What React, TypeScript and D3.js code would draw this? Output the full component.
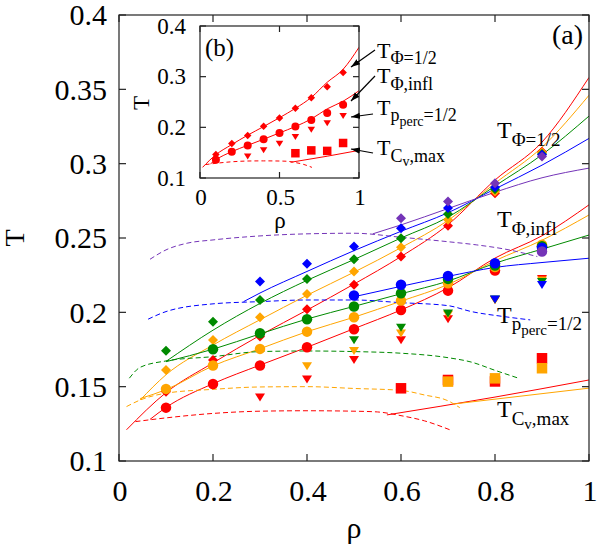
import React from "react";
import * as d3 from "d3";

// ---- data ----
const rhoPts = [0.1, 0.2, 0.3, 0.4, 0.5, 0.6, 0.7, 0.8, 0.9];

const colors = {
  red: "#ff0000",
  orange: "#ffa500",
  green: "#008a00",
  blue: "#0000ff",
  purple: "#7434b8",
};
const order = ["red", "orange", "green", "blue", "purple"];

// T_{Phi=1/2} (diamonds), values start at rho = from
const phiHalf = {
  red: { from: 0.1, T: [0.1466, 0.168, 0.1837, 0.2021, 0.2185, 0.2375, 0.2582, 0.2801, 0.308] },
  orange: { from: 0.1, T: [0.1612, 0.1814, 0.1967, 0.2124, 0.2274, 0.2438, 0.2622, 0.2812, 0.3075] },
  green: { from: 0.1, T: [0.1742, 0.1937, 0.2083, 0.2225, 0.2357, 0.2499, 0.2662, 0.2828, 0.3065] },
  blue: { from: 0.3, T: [0.2207, 0.2326, 0.2442, 0.2566, 0.2701, 0.2842, 0.306] },
  purple: { from: 0.6, T: [0.2633, 0.2745, 0.2869, 0.3048] },
};
// T_{Phi,infl} (circles)
const phiInfl = {
  red: { from: 0.1, T: [0.1359, 0.1518, 0.1642, 0.1765, 0.1886, 0.2016, 0.2146, 0.2281, 0.2445] },
  orange: { from: 0.1, T: [0.1485, 0.1642, 0.1754, 0.187, 0.1967, 0.2079, 0.2196, 0.2305, 0.2455] },
  green: { from: 0.2, T: [0.1752, 0.1859, 0.1954, 0.2039, 0.2128, 0.2225, 0.2315, 0.2445] },
  blue: { from: 0.5, T: [0.2113, 0.2185, 0.2245, 0.233, 0.2435] },
  purple: { from: 0.9, T: [0.2409] },
};
// T_{p_perc=1/2} (down triangles)
const pPerc = {
  red: { from: 0.3, T: [0.1429, 0.155, 0.168, 0.1814, 0.1954, 0.2085, 0.2225] },
  orange: { from: 0.4, T: [0.1639, 0.1742, 0.1859, 0.1985, 0.2085, 0.2215] },
  green: { from: 0.5, T: [0.1814, 0.1897, 0.1994, 0.2088, 0.2205] },
  blue: { from: 0.8, T: [0.2088, 0.2185] },
  purple: { from: 1, T: [] },
};
// T_{Cv,max} (squares)
const cvMax = {
  red: { from: 0.6, T: [0.1489, 0.1545, 0.1535, 0.1691] },
  orange: { from: 0.7, T: [0.1534, 0.1556, 0.1624] },
  green: { from: 1, T: [] },
  blue: { from: 1, T: [] },
  purple: { from: 1, T: [] },
};

// fitted curves, [rho, T]
const fitPhiHalf = {
  red: [[0.016, 0.121], [0.1, 0.146], [0.2, 0.166], [0.3, 0.1845], [0.4, 0.2015], [0.5, 0.219], [0.6, 0.2375], [0.7, 0.259], [0.8, 0.289], [0.9, 0.3145], [1.0, 0.358]],
  orange: [[0.045, 0.141], [0.1, 0.158], [0.2, 0.178], [0.3, 0.195], [0.4, 0.2115], [0.5, 0.227], [0.6, 0.2435], [0.7, 0.2618], [0.8, 0.2868], [0.9, 0.311], [1.0, 0.346]],
  green: [[0.1, 0.167], [0.2, 0.188], [0.3, 0.206], [0.4, 0.2215], [0.5, 0.2355], [0.6, 0.25], [0.7, 0.264], [0.8, 0.285], [0.9, 0.306], [1.0, 0.332]],
  blue: [[0.265, 0.2072], [0.3, 0.213], [0.4, 0.2275], [0.5, 0.2415], [0.6, 0.2545], [0.7, 0.267], [0.8, 0.283], [0.9, 0.299], [1.0, 0.317]],
  purple: [[0.54, 0.2528], [0.6, 0.2588], [0.7, 0.2698], [0.8, 0.2808], [0.9, 0.2905], [1.0, 0.297]],
};
const fitPhiInfl = {
  red: [[0.066, 0.128], [0.1, 0.136], [0.2, 0.152], [0.3, 0.1645], [0.4, 0.1765], [0.5, 0.189], [0.6, 0.2016], [0.7, 0.2165], [0.8, 0.2365], [0.9, 0.2515], [1.0, 0.2723]],
  orange: [[0.045, 0.142], [0.1, 0.148], [0.2, 0.164], [0.3, 0.1755], [0.4, 0.187], [0.5, 0.1967], [0.6, 0.2075], [0.7, 0.2187], [0.8, 0.2347], [0.9, 0.2485], [1.0, 0.2655]],
  green: [[0.1, 0.1668], [0.2, 0.1752], [0.3, 0.1855], [0.4, 0.1955], [0.5, 0.204], [0.6, 0.2125], [0.7, 0.221], [0.8, 0.233], [0.9, 0.2425], [1.0, 0.252]],
  blue: [[0.5, 0.2105], [0.6, 0.2175], [0.7, 0.2242], [0.8, 0.2302], [0.9, 0.2335], [1.0, 0.2364]],
};
const fitPerc = {
  red: [[0.035, 0.1265], [0.1, 0.129], [0.2, 0.132], [0.3, 0.1335], [0.4, 0.1338], [0.5, 0.1335], [0.55, 0.133], [0.6, 0.1305], [0.65, 0.127], [0.704, 0.121]],
  orange: [[0.016, 0.1366], [0.045, 0.141], [0.1, 0.1456], [0.2, 0.1482], [0.3, 0.1498], [0.4, 0.15], [0.5, 0.1488], [0.6, 0.1475], [0.65, 0.1444], [0.7, 0.1405], [0.725, 0.1359]],
  green: [[0.022, 0.1557], [0.045, 0.163], [0.1, 0.1673], [0.2, 0.1702], [0.3, 0.1736], [0.4, 0.174], [0.5, 0.1736], [0.6, 0.1725], [0.7, 0.1695], [0.75, 0.1665], [0.8, 0.161], [0.85, 0.1557]],
  blue: [[0.062, 0.1954], [0.1, 0.2005], [0.2, 0.2057], [0.3, 0.2072], [0.4, 0.2083], [0.5, 0.2083], [0.6, 0.2065], [0.7, 0.2045], [0.75, 0.2005], [0.82, 0.1971], [0.875, 0.1949]],
  purple: [[0.066, 0.2357], [0.1, 0.242], [0.145, 0.2465], [0.2, 0.2487], [0.3, 0.2514], [0.4, 0.2528], [0.5, 0.2532], [0.6, 0.2505], [0.7, 0.2475], [0.76, 0.2454], [0.83, 0.242], [0.89, 0.2375]],
};
const fitCv = {
  red: [[0.57, 0.131], [0.8, 0.143], [1.0, 0.1545]],
  orange: [[0.711, 0.1383], [1.0, 0.149]],
};

const xTicks = [0, 0.2, 0.4, 0.6, 0.8, 1];
const xTickLabels = ["0", "0.2", "0.4", "0.6", "0.8", "1"];
const yTicks = [0.1, 0.15, 0.2, 0.25, 0.3, 0.35, 0.4];
const yTickLabels = ["0.1", "0.15", "0.2", "0.25", "0.3", "0.35", "0.4"];
const insetXTicks = [0, 0.5, 1];
const insetXLabels = ["0", "0.5", "1"];
const insetYTicks = [0.1, 0.2, 0.3, 0.4];
const insetYLabels = ["0.1", "0.2", "0.3", "0.4"];

const F = { fontFamily: '"Liberation Serif"' };

const pts = (s: { from: number; T: number[] }) =>
  s.T.map((t, i) => [rhoPts[rhoPts.indexOf(s.from) + i], t]);

function Marker({ shape, cx, cy, s, fill }: any) {
  const h = s / 2;
  if (shape === "circle") return <circle cx={cx} cy={cy} r={h} fill={fill} />;
  if (shape === "diamond")
    return <path d={`M${cx},${cy - h}L${cx + h},${cy}L${cx},${cy + h}L${cx - h},${cy}Z`} fill={fill} />;
  if (shape === "tri")
    return <path d={`M${cx - h},${cy - s * 0.38}L${cx + h},${cy - s * 0.38}L${cx},${cy + s * 0.42}Z`} fill={fill} />;
  return <rect x={cx - h} y={cy - h} width={s} height={s} fill={fill} />;
}

function Panel({ x, y, cols, sizes, clipId, dashW }: any) {
  const line = d3.line<number[]>().x((d) => x(d[0])).y((d) => y(d[1])).curve(d3.curveMonotoneX);
  return (
    <g>
      <g clipPath={`url(#${clipId})`} fill="none" strokeWidth={1}>
        {cols.map((c: string) => (
          <g key={c} stroke={(colors as any)[c]}>
            {fitPerc[c] && <path d={line(fitPerc[c])!} strokeDasharray={dashW} />}
            {fitPhiHalf[c] && <path d={line(fitPhiHalf[c])!} />}
            {fitPhiInfl[c] && <path d={line(fitPhiInfl[c])!} />}
            {fitCv[c] && <path d={line(fitCv[c])!} />}
          </g>
        ))}
      </g>
      {cols.map((c: string) => (
        <g key={c}>
          {pts(cvMax[c]).map((p, i) => (
            <Marker key={"s" + i} shape="square" cx={x(p[0])} cy={y(p[1])} s={sizes.square} fill={(colors as any)[c]} />
          ))}
          {pts(pPerc[c]).map((p, i) => (
            <Marker key={"t" + i} shape="tri" cx={x(p[0])} cy={y(p[1])} s={sizes.tri} fill={(colors as any)[c]} />
          ))}
          {pts(phiHalf[c]).map((p, i) => (
            <Marker key={"d" + i} shape="diamond" cx={x(p[0])} cy={y(p[1])} s={sizes.diamond} fill={(colors as any)[c]} />
          ))}
          {pts(phiInfl[c]).map((p, i) => (
            <Marker key={"c" + i} shape="circle" cx={x(p[0])} cy={y(p[1])} s={sizes.circle} fill={(colors as any)[c]} />
          ))}
        </g>
      ))}
    </g>
  );
}

function Frame({ x, y, xt, yt, len }: any) {
  const [x0, x1] = x.range();
  const [y0, y1] = y.range();
  return (
    <g stroke="#222" strokeWidth={1.2} fill="none">
      <rect x={x0} y={y1} width={x1 - x0} height={y0 - y1} />
      {xt.map((t: number) => (
        <g key={"x" + t}>
          <line x1={x(t)} x2={x(t)} y1={y0} y2={y0 - len} />
          <line x1={x(t)} x2={x(t)} y1={y1} y2={y1 + len} />
        </g>
      ))}
      {yt.map((t: number) => (
        <g key={"y" + t}>
          <line x1={x0} x2={x0 + len} y1={y(t)} y2={y(t)} />
          <line x1={x1} x2={x1 - len} y1={y(t)} y2={y(t)} />
        </g>
      ))}
    </g>
  );
}

// "T" with nested sub/sub-sub scripts
function TLabel({ x, y, size, parts }: any) {
  return (
    <text x={x} y={y} fontSize={size} style={F}>
      T
      {parts.map((p: any, i: number) => (
        <tspan key={i} dy={p[1]} fontSize={p[2]}>{p[0]}</tspan>
      ))}
    </text>
  );
}

export default function App() {
  const x = d3.scaleLinear().domain([0, 1]).range([119, 589]);
  const y = d3.scaleLinear().domain([0.1, 0.4]).range([461, 15]);
  const xi = d3.scaleLinear().domain([0, 1]).range([200, 359]);
  const yi = d3.scaleLinear().domain([0.1, 0.4]).range([178, 26]);

  const arrows = [
    [375, 50, 351, 67],
    [375, 76, 351, 101],
    [373, 114, 351, 117],
    [373, 153, 351, 149],
  ];

  return (
    <svg width={601} height={555} style={{ position: "absolute", left: 0, top: 0, background: "#fff", fontFamily: '"Liberation Serif"' }}>
      <defs>
        <clipPath id="mainClip">
          <rect x={119} y={15} width={470} height={446} />
        </clipPath>
        <clipPath id="insetClip">
          <rect x={200} y={26} width={159} height={152} />
        </clipPath>
        <marker id="arr" viewBox="0 0 10 10" refX={10} refY={5} markerWidth={9} markerHeight={9} orient="auto" markerUnits="userSpaceOnUse">
          <path d="M0,1.5L10,5L0,8.5Z" fill="#000" />
        </marker>
      </defs>

      {/* main panel */}
      <Panel x={x} y={y} cols={order} sizes={{ circle: 10.5, diamond: 10, tri: 10, square: 10.5 }} clipId="mainClip" dashW="5,3" />
      <Frame x={x} y={y} xt={xTicks} yt={yTicks} len={7} />
      {yTicks.map((t, i) => (
        <text key={t} x={107} y={y(t)} dy="0.34em" textAnchor="end" fontSize={30} style={F}>{yTickLabels[i]}</text>
      ))}
      {xTicks.map((t, i) => (
        <text key={t} x={x(t) + 1} y={501} textAnchor="middle" fontSize={30} style={F}>{xTickLabels[i]}</text>
      ))}
      <text x={354} y={538} textAnchor="middle" fontSize={30} style={F}>ρ</text>
      <text transform="translate(24,238) rotate(-90)" textAnchor="middle" fontSize={28} style={F}>T</text>
      <text x={552} y={44} fontSize={28} style={F}>(a)</text>

      {/* main labels */}
      <TLabel x={497} y={138} size={24} parts={[["Φ=1/2", 8, 19]]} />
      <TLabel x={497} y={227} size={24} parts={[["Φ,infl", 8, 19]]} />
      <TLabel x={497} y={323} size={24} parts={[["p", 7, 19], ["perc", 5, 15], ["=1/2", -5, 19]]} />
      <TLabel x={497} y={417} size={24} parts={[["C", 8, 19], ["v", 4, 15], [",max", -4, 19]]} />

      {/* inset */}
      <rect x={200} y={26} width={159} height={152} fill="#fff" />
      <Panel x={xi} y={yi} cols={["red"]} sizes={{ circle: 8, diamond: 7.5, tri: 7.5, square: 8.5 }} clipId="insetClip" dashW="4,3" />
      <Frame x={xi} y={yi} xt={insetXTicks} yt={insetYTicks} len={6} />
      {insetYTicks.map((t, i) => (
        <text key={t} x={186} y={yi(t)} dy="0.34em" textAnchor="end" fontSize={23} style={F}>{insetYLabels[i]}</text>
      ))}
      {insetXTicks.map((t, i) => (
        <text key={t} x={xi(t) + 1} y={205} textAnchor="middle" fontSize={23} style={F}>{insetXLabels[i]}</text>
      ))}
      <text x={280} y={228} textAnchor="middle" fontSize={23} style={F}>ρ</text>
      <text transform="translate(149,103) rotate(-90)" textAnchor="middle" fontSize={23} style={F}>T</text>
      <text x={205} y={56} fontSize={25} style={F}>(b)</text>

      {arrows.map((a, i) => (
        <line key={i} x1={a[0]} y1={a[1]} x2={a[2]} y2={a[3]} stroke="#000" strokeWidth={1.2} markerEnd="url(#arr)" />
      ))}
      <TLabel x={377} y={58} size={22} parts={[["Φ=1/2", 6, 18]]} />
      <TLabel x={377} y={83} size={22} parts={[["Φ,infl", 7, 18]]} />
      <TLabel x={377} y={115} size={22} parts={[["p", 6, 18], ["perc", 5, 14], ["=1/2", -5, 18]]} />
      <TLabel x={377} y={155} size={22} parts={[["C", 7, 18], ["v", 4, 14], [",max", -4, 18]]} />
    </svg>
  );
}
